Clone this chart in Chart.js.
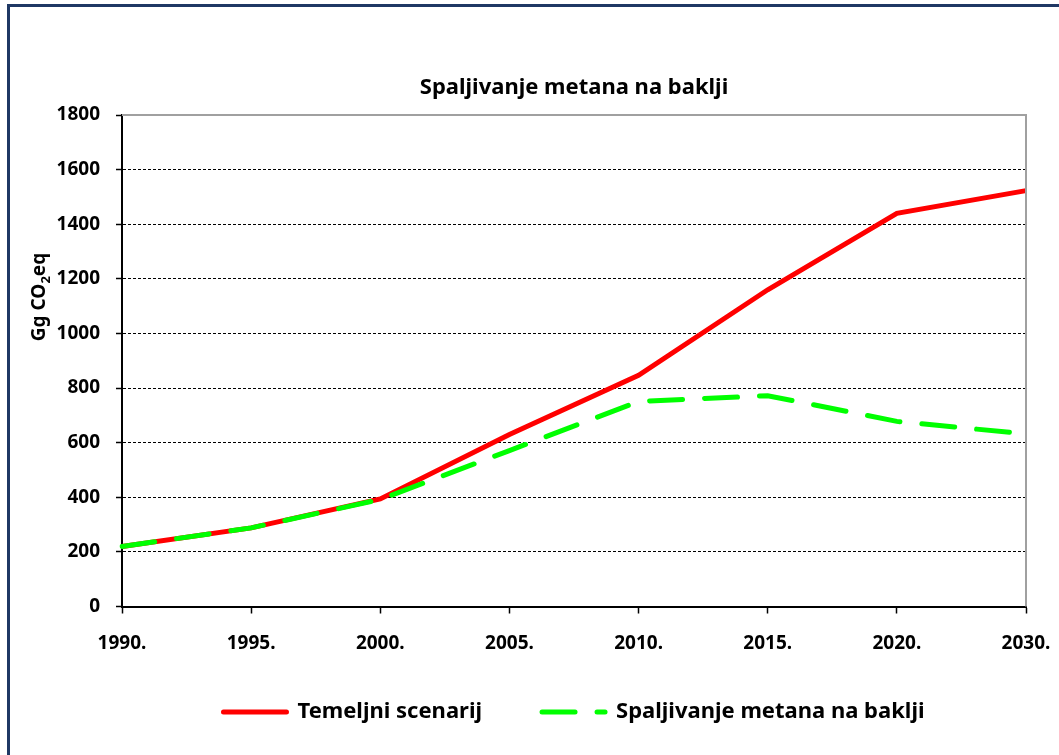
<!DOCTYPE html>
<html>
<head>
<meta charset="utf-8">
<script src="https://cdn.jsdelivr.net/npm/chart.js@4.4.1/dist/chart.umd.min.js"></script>
<style>
  html, body { margin: 0; padding: 0; background: #fff; overflow: hidden; }
  #wrap { position: relative; width: 1059px; height: 755px; }
  #frame { position: absolute; left: 7px; top: 4px; width: 1100px; height: 800px;
           border: 3px solid #1F3864; box-sizing: border-box; pointer-events: none; }
  canvas { position: absolute; left: 0; top: 0; }
</style>
</head>
<body>
<div id="wrap">
  <canvas id="chart" width="1059" height="755"></canvas>
  <div id="frame"></div>
</div>
<script>
// podaci očitani s grafikona
const years = ['1990.', '1995.', '2000.', '2005.', '2010.', '2015.', '2020.', '2030.'];
const temeljni = [220, 288, 394, 630, 847, 1160, 1440, 1523];
const baklje = [220, 288, 392, 571, 751, 772, 678, 632];
const yTicks = [0, 200, 400, 600, 800, 1000, 1200, 1400, 1600, 1800];

const FONT = "'Noto Sans', sans-serif";

// sivi okvir gore i desno od područja crtanja
const plotFrame = {
    id: 'plotFrame',
    afterLayout(chart) {
        // legenda malo više, kao na originalu
        if (chart.legend) {
            chart.legend.top -= 14;
            chart.legend.bottom -= 14;
        }
    },
    afterDraw(chart) {
        const { ctx, chartArea: a } = chart;
        ctx.save();
        ctx.strokeStyle = '#A0A0A0';
        ctx.lineWidth = 2;
        ctx.beginPath();
        ctx.moveTo(a.left, a.top);
        ctx.lineTo(a.right, a.top);
        ctx.lineTo(a.right, a.bottom);
        ctx.stroke();
        ctx.restore();
    }
};

// naslov y osi s indeksom (CO2)
const yTitle = {
    id: 'yTitle',
    afterDraw(chart) {
        const ctx = chart.ctx;
        const big = 'bold 19px ' + FONT;
        const small = 'bold 13px ' + FONT;
        const parts = [['Gg CO', big, 0], ['2', small, 5], ['eq', big, 0]];
        ctx.save();
        let total = 0;
        parts.forEach(p => { ctx.font = p[1]; total += ctx.measureText(p[0]).width; });
        ctx.translate(45, 297);
        ctx.rotate(-Math.PI / 2);
        ctx.fillStyle = '#000';
        ctx.textBaseline = 'alphabetic';
        let x = -total / 2;
        parts.forEach(p => {
            ctx.font = p[1];
            ctx.fillText(p[0], x, p[2]);
            x += ctx.measureText(p[0]).width;
        });
        ctx.restore();
    }
};

new Chart(document.getElementById('chart'), {
    type: 'line',
    data: {
        labels: years,
        datasets: [{
            label: 'Temeljni scenarij',
            data: temeljni,
            borderColor: '#FF0000',
            backgroundColor: '#FF0000',
            borderWidth: 5,
            pointRadius: 0,
            tension: 0,
            order: 2
        }, {
            label: 'Spaljivanje metana na baklji',
            data: baklje,
            borderColor: '#00FF00',
            backgroundColor: '#00FF00',
            borderWidth: 5,
            borderDash: [33, 22],
            borderCapStyle: 'round',
            pointRadius: 0,
            tension: 0,
            order: 1
        }]
    },
    options: {
        responsive: false,
        animation: false,
        layout: { padding: { left: 0, right: 33, top: 66, bottom: 8 } },
        plugins: {
            title: {
                display: true,
                fullSize: false,
                text: 'Spaljivanje metana na baklji',
                color: '#000',
                font: { family: FONT, size: 22, weight: 'bold' },
                padding: { top: 9, bottom: 13.6 }
            },
            legend: {
                position: 'bottom',
                fullSize: false,
                labels: {
                    usePointStyle: true,
                    pointStyle: 'line',
                    pointStyleWidth: 63,
                    padding: 60,
                    color: '#000',
                    font: { family: FONT, size: 22, weight: 'bold' },
                    sort: (a, b) => a.datasetIndex - b.datasetIndex,
                    generateLabels(chart) {
                        const items = Chart.defaults.plugins.legend.labels.generateLabels(chart);
                        items.forEach(it => {
                            const ds = chart.data.datasets[it.datasetIndex];
                            it.lineWidth = ds.borderWidth;
                            it.strokeStyle = ds.borderColor;
                            it.lineDash = ds.borderDash || [];
                            it.lineDashOffset = 0;
                            it.lineCap = 'round';
                        });
                        return items;
                    }
                }
            },
            tooltip: { enabled: false }
        },
        scales: {
            x: {
                afterFit(scale) {
                    scale.height = 48.5;
                    scale.paddingLeft = 0;
                    scale.paddingRight = 0;
                },
                grid: { drawOnChartArea: false, tickLength: 7, tickColor: '#000', tickWidth: 1.5 },
                border: { color: '#000', width: 2 },
                ticks: {
                    color: '#000', padding: 19, maxRotation: 0, autoSkip: false,
                    font: { family: FONT, size: 19, weight: 'bold' }
                }
            },
            y: {
                min: 0,
                max: 1800,
                afterFit(scale) { scale.width = 122; },
                afterBuildTicks(scale) { scale.ticks = yTicks.map(v => ({ value: v })); },
                grid: {
                    color: c => (c.tick && (c.tick.value === 0 || c.tick.value === 1800)) ? 'rgba(0,0,0,0)' : '#000',
                    lineWidth: 1,
                    tickLength: 6,
                    tickColor: '#000',
                    tickWidth: 1.5,
                    tickBorderDash: []
                },
                border: { color: '#000', width: 2, dash: [3, 2] },
                ticks: {
                    color: '#000', padding: 16,
                    callback: v => String(v),
                    font: { family: FONT, size: 19, weight: 'bold' }
                }
            }
        }
    },
    plugins: [plotFrame, yTitle]
});
</script>
</body>
</html>
